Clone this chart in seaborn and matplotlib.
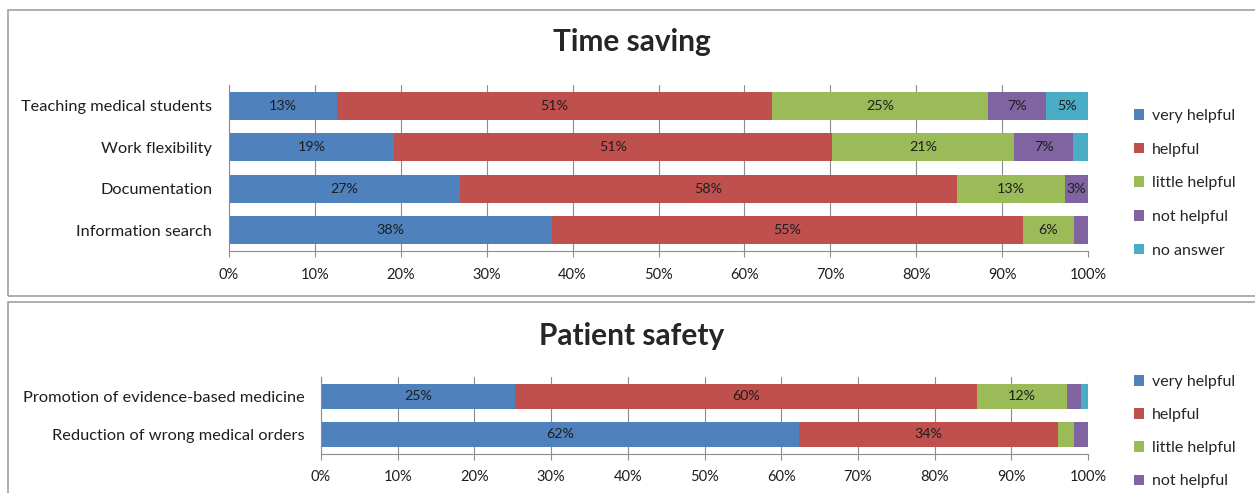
import matplotlib
matplotlib.use("Agg")
import matplotlib.pyplot as plt
from matplotlib.patches import Patch, Rectangle
import numpy as np
import pandas as pd
import seaborn as sns

# Response levels and their colours
levels = ["very helpful", "helpful", "little helpful", "not helpful", "no answer"]
level_colors = ["#4F81BD", "#C0504D", "#9BBB59", "#8064A2", "#4BACC6"]

# Time saving (% of respondents)
time_items = ["Teaching medical students", "Work flexibility", "Documentation", "Information search"]
time_very = [12.6, 19.2, 26.9, 37.6]
time_helpful = [50.6, 51.0, 57.8, 54.8]
time_little = [25.2, 21.2, 12.6, 6.0]
time_not = [6.7, 6.9, 2.7, 1.6]
time_none = [4.9, 1.7, 0.0, 0.0]

# Patient safety (% of respondents)
safety_items = ["Promotion of evidence-based medicine", "Reduction of wrong medical orders"]
safety_very = [25.3, 62.3]
safety_helpful = [60.2, 33.8]
safety_little = [11.7, 2.1]
safety_not = [1.9, 1.8]
safety_none = [0.9, 0.0]

x_ticks = list(range(0, 101, 10))
x_tick_labels = [f"{t}%" for t in x_ticks]

sns.set_style("white")
plt.rcParams["font.family"] = ["Lato", "DejaVu Sans"]

W, H = 1255, 493
fig = plt.figure(figsize=(W / 100, H / 100), dpi=100)


def fx(px):
    return px / W


def fy(py):
    return 1 - py / H


def draw_panel(ax, items, series, names, bar_width):
    df = pd.DataFrame({"item": items})
    for name, vals in zip(names, series):
        df[name] = vals
    starts = df[names].cumsum(axis=1) - df[names]
    for name, color in zip(names, level_colors):
        sns.barplot(data=df, x=name, y="item", orient="h", color=color,
                    saturation=1, width=bar_width, errorbar=None,
                    left=starts[name].to_numpy(), linewidth=0,
                    edgecolor="none", ax=ax, zorder=2)
        for i, (v, s) in enumerate(zip(df[name], starts[name])):
            if v >= 2.5:
                ax.text(s + v / 2, i, f"{v:.0f}%", ha="center", va="center",
                        fontsize=10.3, color="#1e1e1e", zorder=3)
    ax.set_xlim(0, 100)
    ax.set_xticks(x_ticks)
    ax.set_xticklabels(x_tick_labels, fontsize=10.5, color="#1e1e1e")
    ax.set_xlabel("")
    ax.set_ylabel("")
    ax.tick_params(axis="y", length=0, pad=12, labelsize=11.8, labelcolor="#1e1e1e")
    ax.tick_params(axis="x", length=4, direction="out", color="#8c8c8c",
                   bottom=True, pad=8)
    ax.xaxis.grid(True, color="#8c8c8c", linewidth=0.8)
    ax.set_axisbelow(True)
    for side in ("top", "right"):
        ax.spines[side].set_visible(False)
    for side in ("left", "bottom"):
        ax.spines[side].set_color("#8c8c8c")
        ax.spines[side].set_linewidth(0.8)


# Panel frames
fig.add_artist(Rectangle((fx(8), fy(296)), fx(1260 - 8), fy(10) - fy(296),
                         transform=fig.transFigure, fill=False,
                         edgecolor="#a0a0a0", linewidth=1.2))
fig.add_artist(Rectangle((fx(8), fy(500)), fx(1260 - 8), fy(302) - fy(500),
                         transform=fig.transFigure, fill=False,
                         edgecolor="#a0a0a0", linewidth=1.2))

legend_kw = dict(loc="upper left", frameon=False, fontsize=11.5,
                 handlelength=0.65, handleheight=0.65, handletextpad=0.45,
                 borderaxespad=0, borderpad=0)

# Time saving panel
ax1 = fig.add_axes([fx(229), fy(251), fx(1088) - fx(229), fy(85) - fy(251)])
draw_panel(ax1, time_items,
           [time_very, time_helpful, time_little, time_not, time_none],
           levels, 0.67)
fig.text(fx(632), fy(42), "Time saving", ha="center", va="center",
         fontsize=21.5, fontweight="bold")
handles1 = [Patch(facecolor=c, edgecolor="none") for c in level_colors]
fig.legend(handles1, levels, bbox_to_anchor=(fx(1134), fy(109)),
           labelspacing=1.23, **legend_kw)

# Patient safety panel
ax2 = fig.add_axes([fx(321), fy(453.5), fx(1088) - fx(321), fy(377) - fy(453.5)])
draw_panel(ax2, safety_items,
           [safety_very, safety_helpful, safety_little, safety_not, safety_none],
           levels, 0.65)
fig.text(fx(632), fy(336), "Patient safety", ha="center", va="center",
         fontsize=21.5, fontweight="bold")
handles2 = [Patch(facecolor=c, edgecolor="none") for c in level_colors[:4]]
fig.legend(handles2, levels[:4], bbox_to_anchor=(fx(1134), fy(375)),
           labelspacing=1.2, **legend_kw)

fig.savefig("out.png", dpi=100, facecolor="white")
